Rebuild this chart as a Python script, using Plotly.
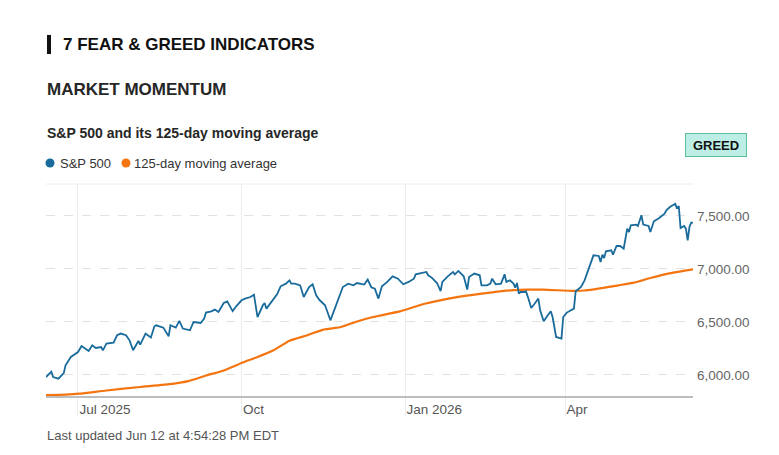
import plotly.graph_objects as go

# S&P 500 daily close
sp_dates = [
    "2025-06-13", "2025-06-16", "2025-06-17", "2025-06-20", "2025-06-23", "2025-06-24",
    "2025-06-27", "2025-06-30", "2025-07-01", "2025-07-03", "2025-07-07", "2025-07-09",
    "2025-07-11", "2025-07-14", "2025-07-15", "2025-07-17", "2025-07-21", "2025-07-23",
    "2025-07-25", "2025-07-28", "2025-07-30", "2025-08-01", "2025-08-04", "2025-08-05",
    "2025-08-08", "2025-08-11", "2025-08-13", "2025-08-14", "2025-08-18", "2025-08-21",
    "2025-08-22", "2025-08-25", "2025-08-27", "2025-08-29", "2025-09-02", "2025-09-04",
    "2025-09-08", "2025-09-10", "2025-09-11", "2025-09-14", "2025-09-16", "2025-09-18",
    "2025-09-21", "2025-09-23", "2025-09-26", "2025-09-28", "2025-10-01", "2025-10-03",
    "2025-10-06", "2025-10-08", "2025-10-10", "2025-10-13", "2025-10-14", "2025-10-15",
    "2025-10-18", "2025-10-21", "2025-10-23", "2025-10-26", "2025-10-28", "2025-10-29",
    "2025-10-31", "2025-11-03", "2025-11-05", "2025-11-07", "2025-11-08", "2025-11-10",
    "2025-11-12", "2025-11-14", "2025-11-17", "2025-11-20", "2025-11-22", "2025-11-24",
    "2025-11-27", "2025-11-30", "2025-12-03", "2025-12-05", "2025-12-09", "2025-12-11",
    "2025-12-13", "2025-12-15", "2025-12-17", "2025-12-19", "2025-12-22", "2025-12-25",
    "2025-12-28", "2025-12-31", "2026-01-03", "2026-01-06", "2026-01-07", "2026-01-10",
    "2026-01-13", "2026-01-14", "2026-01-16", "2026-01-19", "2026-01-21", "2026-01-22",
    "2026-01-25", "2026-01-28", "2026-01-29", "2026-01-31", "2026-02-03", "2026-02-05",
    "2026-02-06", "2026-02-09", "2026-02-12", "2026-02-13", "2026-02-16", "2026-02-18",
    "2026-02-19", "2026-02-21", "2026-02-24", "2026-02-26", "2026-02-27", "2026-03-01",
    "2026-03-03", "2026-03-04", "2026-03-05", "2026-03-06", "2026-03-07", "2026-03-09",
    "2026-03-10", "2026-03-11", "2026-03-13", "2026-03-15", "2026-03-17", "2026-03-18",
    "2026-03-20", "2026-03-22", "2026-03-23", "2026-03-24", "2026-03-25", "2026-03-27",
    "2026-03-30", "2026-03-31", "2026-04-02", "2026-04-06", "2026-04-07", "2026-04-10",
    "2026-04-12", "2026-04-15", "2026-04-16", "2026-04-17", "2026-04-20", "2026-04-21",
    "2026-04-22", "2026-04-23", "2026-04-24", "2026-04-27", "2026-04-28", "2026-04-30",
    "2026-05-02", "2026-05-04", "2026-05-06", "2026-05-07", "2026-05-08", "2026-05-11",
    "2026-05-12", "2026-05-14", "2026-05-15", "2026-05-18", "2026-05-19", "2026-05-21",
    "2026-05-24", "2026-05-27", "2026-05-28", "2026-05-30", "2026-06-02", "2026-06-03",
    "2026-06-04", "2026-06-05", "2026-06-07", "2026-06-08", "2026-06-09", "2026-06-10",
    "2026-06-11", "2026-06-12",
]
sp_values = [
    5979, 6030, 5979, 5964, 6016, 6090,
    6168, 6200, 6215, 6272, 6225, 6278,
    6253, 6262, 6231, 6294, 6304, 6373,
    6389, 6373, 6325, 6231, 6319, 6285,
    6389, 6351, 6458, 6467, 6445, 6363,
    6467, 6445, 6508, 6436, 6420, 6498,
    6489, 6530, 6587, 6599, 6615, 6592,
    6677, 6693, 6601, 6646, 6703, 6719,
    6734, 6756, 6545, 6656, 6677, 6624,
    6696, 6759, 6835, 6860, 6891, 6860,
    6860, 6844, 6734, 6804, 6828, 6854,
    6750, 6703, 6656, 6514, 6608, 6687,
    6828, 6860, 6844, 6866, 6851, 6898,
    6826, 6813, 6719, 6835, 6876, 6929,
    6907, 6854, 6876, 6907, 6948, 6960,
    6970, 6939, 6917, 6866, 6790, 6876,
    6929, 6970, 6948, 6980, 6929, 6804,
    6922, 6955, 6939, 6844, 6844, 6860,
    6907, 6854, 6860, 6948, 6876, 6891,
    6860, 6822, 6866, 6766, 6781, 6781,
    6788, 6740, 6630, 6672, 6719, 6608,
    6505, 6555, 6577, 6599, 6545, 6357,
    6341, 6545, 6587, 6624, 6788, 6828,
    6891, 7033, 7064, 7127, 7121, 7064,
    7134, 7102, 7165, 7175, 7134, 7215,
    7215, 7190, 7379, 7347, 7410, 7417,
    7404, 7505, 7417, 7404, 7347, 7448,
    7479, 7521, 7552, 7583, 7614, 7568,
    7592, 7385, 7404, 7379, 7269, 7394,
    7436, 7436,
]

# 125-day moving average
ma_dates = [
    "2025-06-13", "2025-06-24", "2025-07-02", "2025-07-17", "2025-08-05", "2025-08-23",
    "2025-09-01", "2025-09-11", "2025-09-21", "2025-10-01", "2025-10-10", "2025-10-19",
    "2025-10-28", "2025-11-07", "2025-11-16", "2025-11-26", "2025-12-05", "2025-12-14",
    "2025-12-29", "2026-01-12", "2026-01-31", "2026-02-19", "2026-03-03", "2026-03-11",
    "2026-03-20", "2026-04-06", "2026-04-12", "2026-05-01", "2026-05-10", "2026-05-19",
    "2026-05-29", "2026-06-12",
]
ma_values = [
    5809, 5813, 5822, 5852, 5885, 5915,
    5940, 5993, 6041, 6111, 6168, 6231,
    6322, 6373, 6426, 6451, 6503, 6545,
    6599, 6670, 6735, 6778, 6798, 6803,
    6803, 6791, 6795, 6844, 6869, 6913,
    6955, 6995,
]

tick_dates = ["2025-07-01", "2025-10-01", "2026-01-01", "2026-04-01"]
tick_text = ["Jul 2025", "Oct", "Jan 2026", "Apr"]
y_ticks = [6000, 6500, 7000, 7500]

blue = "#196b9c"
orange = "#f47510"
font = "Liberation Sans, Arial, sans-serif"

fig = go.Figure()
fig.add_trace(go.Scatter(x=ma_dates, y=ma_values, mode="lines", name="125-day moving average",
                         line=dict(color=orange, width=2.2, shape="spline", smoothing=0.5),
                         hoverinfo="skip"))
fig.add_trace(go.Scatter(x=sp_dates, y=sp_values, mode="lines", name="S&P 500",
                         line=dict(color=blue, width=1.8)))

# page body has an 8px margin, so the figure is a bit smaller than the window
fig.update_layout(
    width=771, height=447, autosize=False,
    margin=dict(l=38, r=86, t=176, b=59, autoexpand=False),
    paper_bgcolor="white", plot_bgcolor="white",
    showlegend=False,
    font=dict(family=font, color="#333"),
)

fig.update_xaxes(
    type="date", range=["2025-06-13", "2026-06-12"],
    tickvals=tick_dates, ticktext=tick_text,
    showgrid=True, gridcolor="#ececec", gridwidth=1,
    ticks="outside", ticklen=18, tickcolor="#ececec", tickwidth=1,
    ticklabelposition="outside right", ticklabelstandoff=0,
    tickfont=dict(size=13.5, color="#555"),
    showline=True, linecolor="#bdbdbd", linewidth=2,
    zeroline=False,
)
fig.update_yaxes(
    side="right", range=[5800, 7800],
    tickvals=y_ticks, tickformat=",.2f",
    showgrid=True, gridcolor="#e2e2e2", griddash="dash", gridwidth=1,
    tickfont=dict(size=13.5, color="#666"),
    ticklabelstandoff=3,
    zeroline=False, showline=False,
)

# top border of the chart
fig.add_shape(type="line", xref="paper", yref="paper", x0=0, x1=1, y0=1, y1=1,
              line=dict(color="#ececec", width=1))
# black bar before the heading
fig.add_shape(type="rect", xref="paper", yref="paper", x0=0.0015, x1=0.0077, y0=1.613, y1=1.703,
              fillcolor="#111", line=dict(width=0))

# legend dots
for cx, col in [(0.0062, blue), (0.1236, orange)]:
    fig.add_shape(type="circle", xref="paper", yref="paper",
                  xsizemode="pixel", ysizemode="pixel", xanchor=cx, yanchor=1.099,
                  x0=-4.5, x1=4.5, y0=-4.5, y1=4.5,
                  fillcolor=col, line=dict(width=0))

fig.add_annotation(text="<b>7 FEAR & GREED INDICATORS</b>", xref="paper", yref="paper",
                   x=0.023, y=1.660, xanchor="left", yanchor="middle", showarrow=False,
                   font=dict(size=17, color="#111", family=font))
fig.add_annotation(text="<b>MARKET MOMENTUM</b>", xref="paper", yref="paper",
                   x=-0.002, y=1.448, xanchor="left", yanchor="middle", showarrow=False,
                   font=dict(size=17, color="#262626", family=font))
fig.add_annotation(text="<b>S&P 500 and its 125-day moving average</b>", xref="paper", yref="paper",
                   x=-0.002, y=1.241, xanchor="left", yanchor="middle", showarrow=False,
                   font=dict(size=14, color="#262626", family=font))
fig.add_annotation(text="S&P 500", xref="paper", yref="paper", x=0.0185, y=1.099,
                   xanchor="left", yanchor="middle", showarrow=False,
                   font=dict(size=13, color="#333", family=font))
fig.add_annotation(text="125-day moving average", xref="paper", yref="paper", x=0.1325, y=1.099,
                   xanchor="left", yanchor="middle", showarrow=False,
                   font=dict(size=13, color="#333", family=font))
fig.add_annotation(text="<b>GREED</b>", xref="paper", yref="paper",
                   x=1.0355, y=1.184, xanchor="center", yanchor="middle", showarrow=False,
                   width=60, height=22, borderpad=0,
                   bgcolor="#bdeee6", bordercolor="#5fbf9a", borderwidth=1,
                   font=dict(size=13, color="#111", family=font))
fig.add_annotation(text="Last updated Jun 12 at 4:54:28 PM EDT", xref="paper", yref="paper",
                   x=-0.002, y=-0.184, xanchor="left", yanchor="middle", showarrow=False,
                   font=dict(size=13, color="#555", family=font))

fig.write_html("out.html")
